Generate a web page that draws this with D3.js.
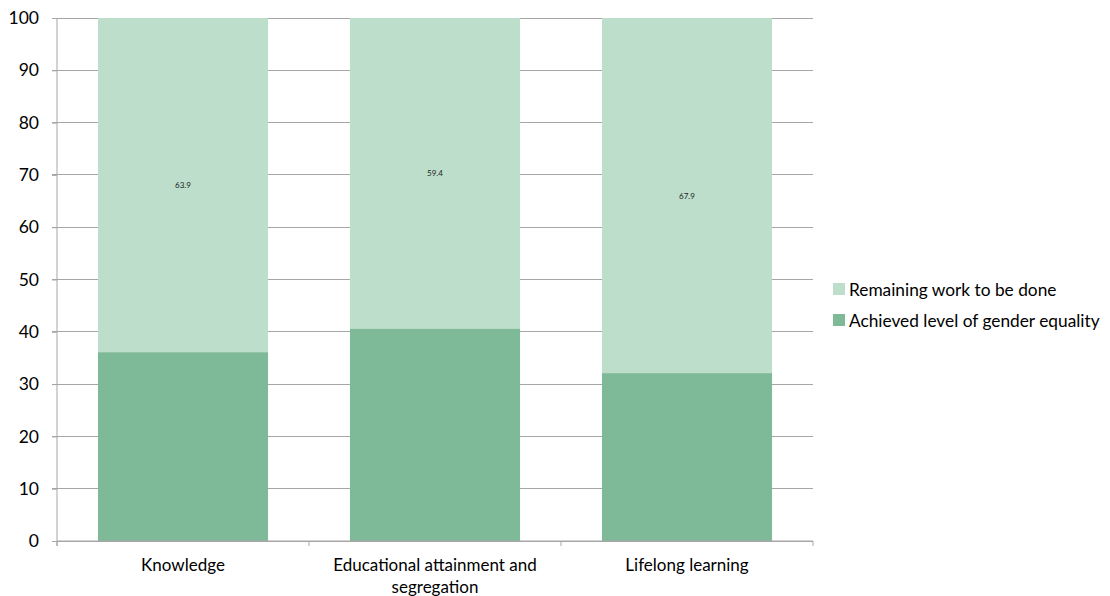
<!DOCTYPE html>
<html><head><meta charset="utf-8">
<script src="https://cdn.jsdelivr.net/npm/d3@7"></script>
<style>body{margin:0;background:#fff;} text{font-family:Lato,"Open Sans",sans-serif;}</style>
</head><body>
<svg id="c" width="1110" height="596"></svg>
<script>
const categories = ["Knowledge", "Educational attainment and segregation", "Lifelong learning"];
const achieved = [36.1, 40.6, 32.1];
const remaining = [63.9, 59.4, 67.9];
const yTicks = [0,10,20,30,40,50,60,70,80,90,100];
const seriesNames = ["Remaining work to be done", "Achieved level of gender equality"];
const colors = {achieved: "#7fba98", remaining: "#bcdecb"};

const svg = d3.select("#c");
const m = {l:57, r:813, t:18, b:541};
const x = d3.scaleBand().domain(categories).range([m.l, m.r]).paddingInner(0.325).paddingOuter(0.1625);
const y = d3.scaleLinear().domain([0,100]).range([m.b, m.t]);

// gridlines
svg.append("g").selectAll("line").data(yTicks).join("line")
  .attr("x1", m.l-5).attr("x2", m.r).attr("y1", d=>y(d)).attr("y2", d=>y(d))
  .attr("stroke", "#a6a6a6").attr("stroke-width", 1).attr("shape-rendering","crispEdges");

const data = categories.map((c,i)=>({c, a:achieved[i], r:remaining[i]}));
svg.append("g").selectAll("rect").data(data).join("rect")
  .attr("x", d=>x(d.c)).attr("width", x.bandwidth())
  .attr("y", d=>y(d.a + d.r)).attr("height", d=>y(d.a)-y(d.a+d.r))
  .attr("fill", colors.remaining);
svg.append("g").selectAll("rect").data(data).join("rect")
  .attr("x", d=>x(d.c)).attr("width", x.bandwidth())
  .attr("y", d=>y(d.a)).attr("height", d=>y(0)-y(d.a))
  .attr("fill", colors.achieved);
svg.append("g").selectAll("text").data(data).join("text")
  .attr("x", d=>x(d.c)+x.bandwidth()/2).attr("y", d=>y(d.a + d.r/2)+3)
  .attr("text-anchor","middle").attr("font-size", 8).attr("fill","#222")
  .text(d=>d.r.toFixed(1));

// y axis
const ya = svg.append("g").attr("transform", `translate(${m.l},0)`)
  .call(d3.axisLeft(y).tickValues(yTicks).tickSize(5).tickSizeOuter(0));
ya.select(".domain").attr("stroke","#a6a6a6");
ya.selectAll(".tick line").attr("stroke","#a6a6a6");
ya.selectAll(".tick text").attr("font-size",17.5).attr("fill","#000").attr("x",-18).attr("font-family","Lato,'Open Sans',sans-serif");
ya.select(".domain").attr("d", `M0,${m.t}V${m.b+5}`);

// x axis
const xa = svg.append("g").attr("transform", `translate(0,${m.b})`);
xa.append("line").attr("x1", m.l).attr("x2", m.r).attr("y1",0).attr("y2",0).attr("stroke","#a6a6a6");
const bounds = [0,1,2,3].map(i=> m.l + i*(m.r-m.l)/3);
xa.selectAll("line.t").data(bounds).join("line").attr("class","t")
  .attr("x1", d=>d).attr("x2", d=>d).attr("y1",0).attr("y2",5).attr("stroke","#a6a6a6");
const lines = {"Educational attainment and segregation": ["Educational attainment and", "segregation"]};
xa.selectAll("text.l").data(categories).join("text").attr("class","l")
  .attr("x", d=>x(d)+x.bandwidth()/2).attr("y", 30)
  .attr("text-anchor","middle").attr("font-size",17).attr("fill","#000")
  .each(function(d){
    const ls = lines[d] || [d];
    d3.select(this).selectAll("tspan").data(ls).join("tspan")
      .attr("x", x(d)+x.bandwidth()/2).attr("dy",(t,i)=> i===0?0:22).text(t=>t);
  });

// legend
const lg = svg.append("g").attr("transform","translate(833,290)");
const lcol = [colors.remaining, colors.achieved];
seriesNames.forEach((n,i)=>{
  const g = lg.append("g").attr("transform",`translate(0,${i*31})`);
  g.append("rect").attr("x",0).attr("y",-7).attr("width",12).attr("height",12).attr("fill",lcol[i]);
  g.append("text").attr("x",16).attr("y",6).attr("font-size",17.3).attr("fill","#000").text(n);
});
</script>
</body></html>
